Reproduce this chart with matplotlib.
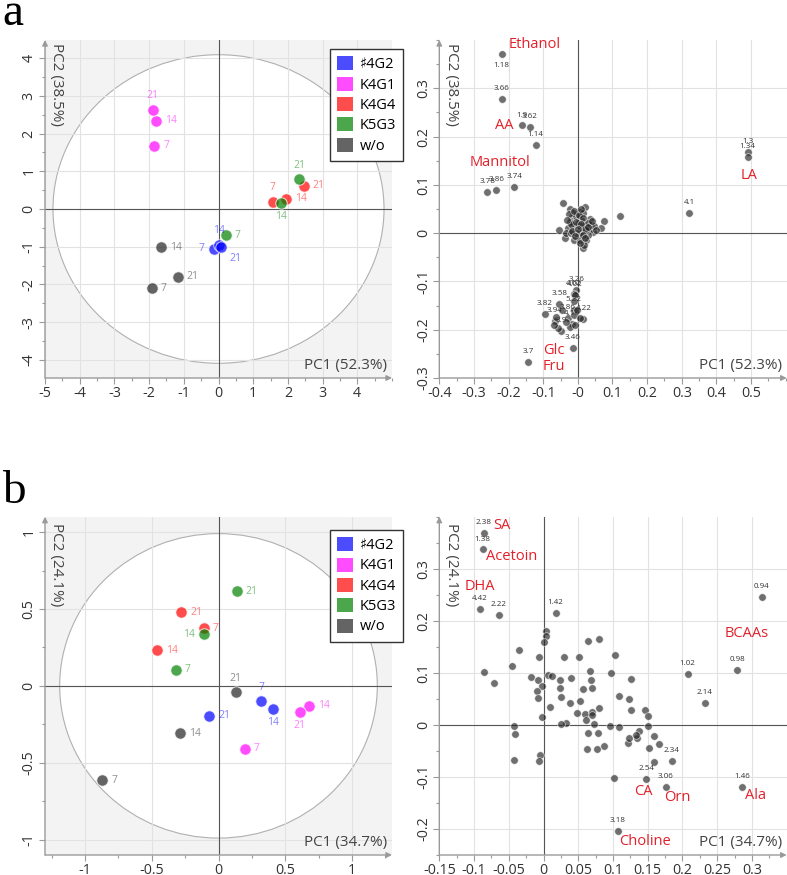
import matplotlib
matplotlib.use('Agg')
import numpy as np
import matplotlib.pyplot as plt
from matplotlib.patches import Ellipse, Patch
from matplotlib.ticker import FixedLocator, AutoMinorLocator, FuncFormatter

plt.rcParams['font.family'] = ['Open Sans', 'DejaVu Sans']

# ---------------- data ----------------
group_names = ['♯4G2', 'K4G1', 'K4G4', 'K5G3', 'w/o']
group_colors = ['#0000ff', '#ff00ff', '#ff0000', '#008000', '#222222']
days = ['7', '14', '21']

# panel a scores (per group, days 7/14/21)
a_pc1 = [[-0.14, 0.00, 0.07], [-1.85, -1.79, -1.90], [1.57, 1.95, 2.45],
         [0.21, 1.80, 2.32], [-1.93, -1.65, -1.17]]
a_pc2 = [[-1.05, -0.95, -1.01], [1.68, 2.34, 2.63], [0.19, 0.27, 0.62],
         [-0.70, 0.16, 0.79], [-2.10, -1.01, -1.80]]
a_label_side = [['l', 'u', 'dr'], ['r', 'r', 'u'], ['u', 'r', 'r'],
                ['r', 'd', 'u'], ['r', 'r', 'r']]

# panel b scores
b_pc1 = [[0.32, 0.41, -0.07], [0.195, 0.68, 0.61], [-0.11, -0.46, -0.28],
         [-0.32, -0.11, 0.135], [-0.87, -0.29, 0.13]]
b_pc2 = [[-0.10, -0.15, -0.195], [-0.41, -0.128, -0.169], [0.376, 0.231, 0.48],
         [0.104, 0.335, 0.614], [-0.614, -0.309, -0.043]]
b_label_side = [['u', 'd', 'r'], ['r', 'r', 'd'], ['r', 'r', 'r'],
                ['r', 'l', 'r'], ['r', 'r', 'u']]

# panel a loadings (labelled ones first)
a_load_pc1 = [-0.220, -0.220, -0.161, -0.138, -0.122, -0.261, -0.235, -0.183,
              0.492, 0.490, 0.321, -0.144, -0.015,
              -0.005, -0.0115, -0.0077, -0.054, -0.0125, -0.095, -0.066, -0.029,
              0.016, -0.016, -0.049, -0.057, -0.022, -0.008, -0.063, -0.010, -0.002,
              -0.010, -0.045, -0.035, 0.005, -0.070,
              -0.042, 0.022, -0.022, 0.006, 0.035, 0.076, 0.122, 0.066, -0.053,
              -0.036, 0.014, 0.045, -0.019, -0.005, 0.010, -0.014, 0.005, 0.019,
              0.034, -0.029, -0.010, 0.024, 0.010, 0.029, -0.024, 0.014, -0.005,
              0.019, -0.014, 0.038, 0.000, -0.034, 0.024, 0.048, -0.019, 0.005,
              -0.025, -0.012, 0.003, 0.016, 0.028, -0.020, -0.006, 0.008, 0.022,
              -0.016, 0.000, 0.014, 0.030, -0.008, 0.006, 0.020, 0.040, 0.053,
              -0.030, 0.010]
a_load_pc2 = [0.371, 0.277, 0.223, 0.219, 0.183, 0.086, 0.090, 0.096,
              0.168, 0.157, 0.041, -0.267, -0.238,
              -0.117, -0.126, -0.128, -0.147, -0.159, -0.168, -0.181, -0.176,
              -0.178, -0.188, -0.202, -0.197, -0.195, -0.190, -0.173, -0.169, -0.159,
              -0.140, -0.160, -0.185, -0.175, -0.190,
              0.063, 0.054, 0.051, 0.044, 0.030, 0.026, 0.035, 0.010, 0.007,
              -0.010, -0.030, 0.003, 0.031, 0.035, 0.028, 0.014, 0.014, 0.017,
              0.007, 0.010, -0.014, -0.014, 0.000, -0.004, 0.024, 0.041, 0.000,
              -0.024, 0.041, 0.017, 0.021, 0.000, 0.007, 0.014, 0.000, -0.014,
              0.040, 0.046, 0.038, 0.032, 0.022, 0.018, 0.024, 0.018, 0.008,
              0.004, 0.008, -0.004, 0.012, -0.006, -0.020, -0.010, 0.026, 0.006,
              0.028, 0.050]
a_load_named = ['1.18', '3.66', '1.9', '3.62', '1.14', '3.78', '3.86', '3.74',
                '1.3', '1.34', '4.1', '3.7', '3.46',
                '3.26', '4.62', '4.02', '3.58', '5.22', '3.82', '3.94', '3.86',
                '4.22', '4.18', '3.9']
a_load_below = ['1.18']

a_names = ['Ethanol', 'AA', 'Mannitol', 'LA', 'Glc', 'Fru']
a_names_x = [-0.124, -0.213, -0.225, 0.494, -0.069, -0.068]
a_names_y = [0.391, 0.223, 0.147, 0.119, -0.243, -0.276]

# panel b loadings (labelled ones first)
b_load_pc1 = [-0.086, -0.0874, -0.0913, -0.0644, 0.0173, 0.314, 0.2786, 0.2075,
              0.232, 0.1844, 0.1475, 0.1763, 0.2863, 0.1066, 0.1013,
              0.0034, 0.0034, 0.000, -0.0346, 0.0634, 0.080, 0.1033, -0.0072,
              0.0288, 0.0504, -0.045, -0.0855, 0.0668, 0.097, -0.0178, 0.0062,
              0.012, -0.0077, 0.024, 0.039, 0.068, 0.1258, -0.0716, -0.0029,
              0.024, 0.0697, 0.0572, -0.0101, -0.0077, 0.0255, 0.109, 0.1225,
              0.0384, 0.0528, 0.0091, 0.080, 0.0485, 0.059, 0.0697, 0.070,
              0.0615, 0.1258, 0.1465, 0.1503, -0.0029, 0.0317, 0.0255, 0.072,
              0.0956, 0.1085, 0.1499, -0.0427, -0.0408, 0.0634, 0.078, 0.1595,
              0.1657, 0.121, 0.1234, 0.135, 0.1374, 0.1335, 0.1518, 0.0874,
              0.062, 0.0768, 0.1585, -0.0432, -0.0053, -0.0072]
b_load_pc2 = [0.369, 0.337, 0.223, 0.212, 0.2145, 0.2466, 0.1053, 0.0976,
              0.043, -0.0687, -0.104, -0.1188, -0.1188, -0.204, -0.1028,
              0.180, 0.170, 0.159, 0.143, 0.1606, 0.1644, 0.135, 0.1297,
              0.131, 0.131, 0.1137, 0.1015, 0.1028, 0.100, 0.0925, 0.095,
              0.0938, 0.0854, 0.0867, 0.090, 0.0854, 0.0873, 0.0803, 0.0739,
              0.0707, 0.0707, 0.0681, 0.0642, 0.0514, 0.0527, 0.0559, 0.0495,
              0.043, 0.045, 0.0353, 0.0321, 0.0225, 0.0212, 0.0257, 0.0186,
              0.0096, 0.0283, 0.0283, 0.0167, 0.016, 0.0032, 0.0013, 0.0013,
              -0.0013, -0.0039, -0.0026, -0.0013, -0.0173, -0.016, -0.0154, -0.0212,
              -0.0373, -0.034, -0.0244, -0.0244, -0.0122, -0.019, -0.0437, -0.0405,
              -0.0469, -0.0469, -0.0707, -0.0674, -0.0578, -0.0687]
b_load_named = ['2.38', '1.38', '4.42', '2.22', '1.42', '0.94', '0.98', '1.02',
                '2.14', '2.34', '2.54', '3.06', '1.46', '3.18']

b_names = ['SA', 'Acetoin', 'DHA', 'BCAAs', 'CA', 'Orn', 'Ala', 'Choline']
b_names_x = [-0.060, -0.0466, -0.092, 0.292, 0.143, 0.192, 0.305, 0.1455]
b_names_y = [0.383, 0.323, 0.2665, 0.175, -0.128, -0.139, -0.135, -0.2235]

# ---------------- figure ----------------
fig = plt.figure(figsize=(7.87, 8.75), dpi=100)
W, H = 787.0, 875.0


def axes_px(x0, y0, x1, y1):
    return fig.add_axes([x0 / W, 1 - y1 / H, (x1 - x0) / W, (y1 - y0) / H])


ax_a1 = axes_px(45, 40, 392, 378)
ax_a2 = axes_px(439.3, 40, 786.7, 378)
ax_b1 = axes_px(45, 516.7, 392, 855)
ax_b2 = axes_px(439.3, 516.7, 786.7, 855)

TICK_FS = 10.3
AXLAB_FS = 11
AX_COLOR = '#9a9a9a'
fmt = FuncFormatter(lambda v, p: ('%g' % round(v, 3)))


def style_axes(ax, xlim, ylim, xticks, yticks, xlab, ylab, shaded, ylab_top):
    ax.set_xlim(*xlim)
    ax.set_ylim(*ylim)
    ax.xaxis.set_major_locator(FixedLocator(xticks))
    ax.yaxis.set_major_locator(FixedLocator(yticks))
    ax.xaxis.set_minor_locator(AutoMinorLocator(2))
    ax.yaxis.set_minor_locator(AutoMinorLocator(2))
    ax.xaxis.set_major_formatter(fmt)
    ax.yaxis.set_major_formatter(fmt)
    ax.set_facecolor('#f3f3f3' if shaded else 'white')
    ax.set_axisbelow(True)
    ax.grid(True, which='major', color='#e2e2e2', lw=0.8)
    for s in ax.spines.values():
        s.set_visible(False)
    ax.tick_params(which='both', direction='out', color=AX_COLOR, labelcolor='#333333',
                   labelsize=TICK_FS, top=False, right=False)
    ax.tick_params(which='major', length=4, width=0.8, pad=2)
    ax.tick_params(which='minor', length=2.5, width=0.8)
    for lab in ax.get_yticklabels():
        lab.set_rotation(90)
        lab.set_va('center')
    ax.axhline(0, color='#555555', lw=0.8, zorder=1)
    ax.axvline(0, color='#555555', lw=0.8, zorder=1)
    ax.annotate('', xy=(0, 1.0), xytext=(0, 0), xycoords='axes fraction',
                arrowprops=dict(arrowstyle='-|>', color=AX_COLOR, lw=1.0,
                                mutation_scale=8, shrinkA=0, shrinkB=0),
                annotation_clip=False, zorder=5)
    ax.annotate('', xy=(1.0, 0), xytext=(0, 0), xycoords='axes fraction',
                arrowprops=dict(arrowstyle='-|>', color=AX_COLOR, lw=1.0,
                                mutation_scale=8, shrinkA=0, shrinkB=0),
                annotation_clip=False, zorder=5)
    ax.text(0.034, ylab_top, ylab, rotation=270,
            ha='center', va='top', transform=ax.transAxes,
            fontsize=AXLAB_FS, color='#444444', zorder=6)
    ax.text(0.987, 0.036, xlab, ha='right', va='center', transform=ax.transAxes,
            fontsize=AXLAB_FS, color='#444444', zorder=6)


offsets = {'r': ((6.5, 0), 'left', 'center'), 'l': ((-6.5, 0), 'right', 'center'),
           'u': ((0, 10), 'center', 'center'), 'd': ((0, -10), 'center', 'center'),
           'dr': ((6, -8), 'left', 'center')}


def draw_scores(ax, pc1, pc2, sides, ell_w, ell_h):
    ax.add_patch(Ellipse((0, 0), 2 * ell_w, 2 * ell_h, facecolor='white',
                         edgecolor='#b0b0b0', lw=0.8, zorder=0.2))
    for g in range(len(group_names)):
        ax.scatter(pc1[g], pc2[g], s=68, color=group_colors[g], alpha=0.7,
                   edgecolor='white', linewidth=0.8, zorder=3)
        for k in range(len(days)):
            off, ha, va = offsets[sides[g][k]]
            ax.annotate(days[k], (pc1[g][k], pc2[g][k]), xytext=off,
                        textcoords='offset points', ha=ha, va=va, fontsize=7.5,
                        color=group_colors[g], alpha=0.5, zorder=4)


def draw_legend(ax, top):
    handles = [Patch(facecolor=c, alpha=0.7, edgecolor='none') for c in group_colors]
    leg = ax.legend(handles, group_names, loc='upper left', bbox_to_anchor=(0.821, top),
                    frameon=True, fancybox=False, edgecolor='#333333', framealpha=1,
                    fontsize=10.5, handlelength=1.1, handleheight=1.1,
                    handletextpad=0.45, borderpad=0.5, labelspacing=0.3,
                    borderaxespad=0)
    leg.get_frame().set_linewidth(1.0)
    leg.set_zorder(10)


def draw_loadings(ax, x, y, named, below, nx, ny, names):
    ax.scatter(x, y, s=30, color='#222222', alpha=0.65, edgecolor='white',
               linewidth=0.6, zorder=3)
    for xi, yi, lb in zip(x, y, named):
        dy = -8 if lb in below else 7.5
        ax.annotate(lb, (xi, yi), xytext=(0, dy), textcoords='offset points',
                    ha='center', va='center', fontsize=5.8, color='#333333', zorder=4)
    for t, xi, yi in zip(names, nx, ny):
        ax.text(xi, yi, t, ha='center', va='center', fontsize=10.5,
                color='#e3202a', zorder=5)


# panel a
style_axes(ax_a1, (-5, 5), (-4.48, 4.48), list(range(-5, 5)), list(range(-4, 5)),
           'PC1 (52.3%)', 'PC2 (38.5%)', True, 0.99)
draw_scores(ax_a1, a_pc1, a_pc2, a_label_side, 4.77, 4.09)
draw_legend(ax_a1, 0.973)

style_axes(ax_a2, (-0.4, 0.603), (-0.3, 0.40), list(np.round(np.arange(-0.4, 0.51, 0.1), 2)),
           list(np.round(np.arange(-0.3, 0.31, 0.1), 2)), 'PC1 (52.3%)', 'PC2 (38.5%)', False, 0.99)
draw_loadings(ax_a2, a_load_pc1, a_load_pc2, a_load_named, a_load_below,
              a_names_x, a_names_y, a_names)

# panel b
style_axes(ax_b1, (-1.3, 1.3), (-1.1, 1.1), [-1, -0.5, 0, 0.5, 1], [-1, -0.5, 0, 0.5, 1],
           'PC1 (34.7%)', 'PC2 (24.1%)', True, 0.981)
draw_scores(ax_b1, b_pc1, b_pc2, b_label_side, 1.19, 0.99)
draw_legend(ax_b1, 0.961)

style_axes(ax_b2, (-0.15, 0.35), (-0.25, 0.40), list(np.round(np.arange(-0.15, 0.31, 0.05), 2)),
           list(np.round(np.arange(-0.2, 0.31, 0.1), 2)), 'PC1 (34.7%)', 'PC2 (24.1%)', False, 0.981)
draw_loadings(ax_b2, b_load_pc1, b_load_pc2, b_load_named, [],
              b_names_x, b_names_y, b_names)

# panel letters
fig.text(0.003, 1 - 25 / H, 'a', fontsize=34, family='Liberation Serif', va='baseline')
fig.text(0.003, 1 - 503 / H, 'b', fontsize=34, family='Liberation Serif', va='baseline')

fig.savefig('out.png', dpi=100)
